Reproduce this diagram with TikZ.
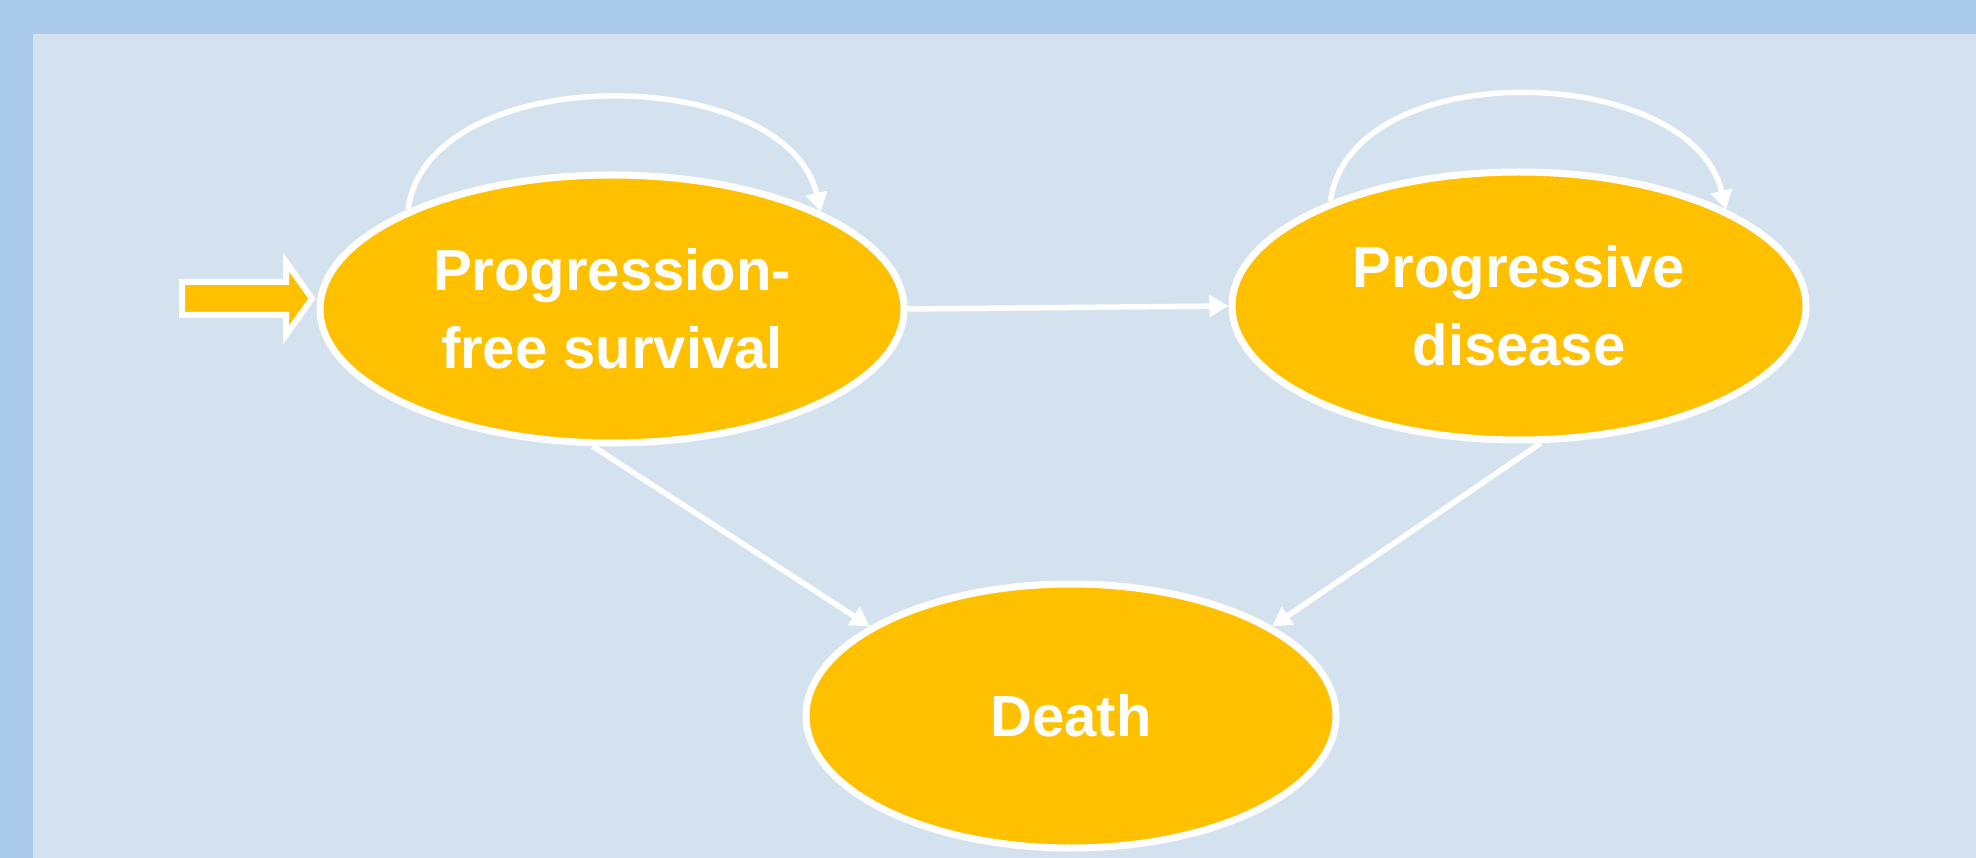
\documentclass[tikz,border=0pt]{standalone}
\usepackage{fontspec}
\setmainfont{Liberation Sans}
\usetikzlibrary{shapes.geometric,arrows.meta}
\definecolor{outerbg}{HTML}{A9CAE9}
\definecolor{innerbg}{HTML}{D4E2EF}
\definecolor{stateorange}{HTML}{FFC000}
\tikzset{
  state/.style={ellipse,draw=white,line width=7pt,fill=stateorange,inner sep=0pt,
    text=white,font=\fontsize{58}{78}\selectfont\bfseries,align=center},
  edge/.style={draw=white,line width=5.5pt,-{Triangle[length=19pt,width=21pt]}},
}
\begin{document}
\begin{tikzpicture}[x=1pt,y=-1pt]
\useasboundingbox (0,0) rectangle (1976,858);
\fill[outerbg] (0,0) rectangle (1976,858);
\fill[innerbg] (33,34) rectangle (1976,858);
\node[state,minimum width=584pt,minimum height=268pt] (pfs) at (612,309) {Progression-\\free survival};
\node[state,minimum width=574pt,minimum height=268pt] (pd) at (1519,306) {Progressive\\disease};
\node[state,minimum width=530pt,minimum height=264pt] (death) at (1071,716) {Death};
% entry arrow
\draw[white,line width=6pt,fill=stateorange,line join=miter]
  (182,282) -- (286,282) -- (286,262) -- (312,298.5) -- (286,335) -- (286,315) -- (182,315) -- cycle;
% transitions
\draw[edge] (pfs.east) -- (pd.west);
\draw[edge] (pfs.262) -- (death.156);
\draw[edge] (pd.279) -- (death.24);
% self loops
\draw[edge] (pfs.154) .. controls +(20,-150) and +(-35,-150) .. (pfs.25);
\draw[edge] (pd.151) .. controls +(20,-148) and +(-35,-148) .. (pd.25);
\end{tikzpicture}
\end{document}
